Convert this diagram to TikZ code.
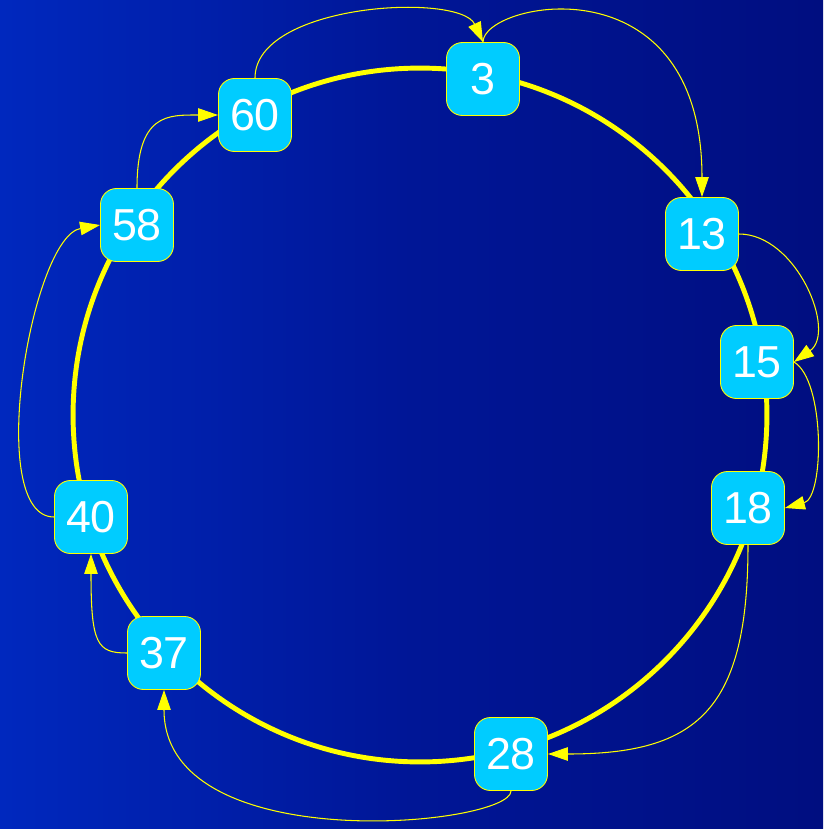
\documentclass[tikz,border=0pt]{standalone}
\usepackage{fontspec}
\setsansfont{Liberation Sans}
\usetikzlibrary{arrows.meta}
\definecolor{ringyellow}{RGB}{255,255,0}
\definecolor{keycyan}{RGB}{0,204,255}
\definecolor{bgleft}{RGB}{0,40,190}
\definecolor{bgmid}{RGB}{0,22,150}
\definecolor{bgright}{RGB}{0,14,128}

\begin{document}
\begin{tikzpicture}[
  x=0.02cm, y=-0.02cm,
  key/.style={draw=ringyellow, line width=0.5pt, fill=keycyan, rounded corners=0.32cm,
    minimum width=1.46cm, minimum height=1.46cm, inner sep=0pt, text=white,
    font=\sffamily\fontsize{25.5}{25.5}\selectfont},
  ring/.style={ringyellow, line width=2.8pt},
  finger/.style={-{Triangle[length=0.4cm,width=0.27cm]}, ringyellow, line width=0.6pt}
]
\shade[left color=bgleft, right color=bgright, middle color=bgmid] (0,0) rectangle (823,829);
\useasboundingbox (0,0) rectangle (823,829);
\coordinate (c) at (420,415);
\draw[ring] (c) circle[radius=6.94cm];

\node[key] (n3) at (483,79) {3};
\node[key] (n13) at (702,234) {13};
\node[key] (n15) at (757,362) {15};
\node[key] (n18) at (748,508) {18};
\node[key] (n28) at (511,754) {28};
\node[key] (n37) at (164,653) {37};
\node[key] (n40) at (91,517) {40};
\node[key] (n58) at (137,225) {58};
\node[key] (n60) at (255,115) {60};

\draw[finger] (n60.north) to[out=90, in=115, out distance=1.5cm, in distance=1.1cm] (n3.north);
\draw[finger] (n3.north) to[out=90, in=90, out distance=0.8cm, in distance=4.8cm] (n13.north);
\draw[finger] (n13.east) to[out=0, in=35, out distance=1.15cm, in distance=1.05cm] (n15.east);
\draw[finger] (n15.east) to[out=-30, in=15, out distance=0.72cm, in distance=0.82cm] (n18.east);
\draw[finger] (n18.south) to[out=-90, in=0, out distance=3.3cm, in distance=3cm] (n28.east);
\draw[finger] (n28.south) to[out=-90, in=-90, out distance=0.7cm, in distance=3.4cm] (n37.south);
\draw[finger] (n37.west) to[out=180, in=-90, out distance=0.6cm, in distance=1.8cm] (n40.south);
\draw[finger] (n40.west) to[out=180, in=190, out distance=1.4cm, in distance=1.4cm] (n58.west);
\draw[finger] (n58.north) to[out=90, in=180, out distance=1.5cm, in distance=1cm] (n60.west);
\end{tikzpicture}
\end{document}
